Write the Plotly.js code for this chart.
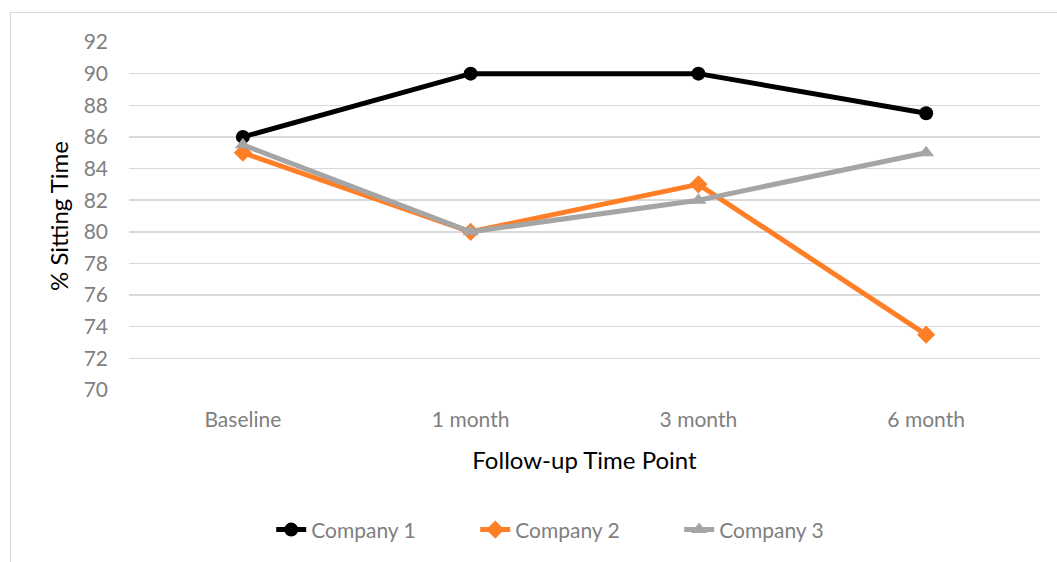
<!DOCTYPE html>
<html>
<head>
<meta charset="utf-8">
<script src="https://cdn.plot.ly/plotly-3.0.1.min.js"></script>
<style>
html,body{margin:0;padding:0;background:#fff;}
#wrap{position:relative;width:1057px;height:562px;overflow:hidden;}
#frame{position:absolute;left:10px;top:12px;width:1060px;height:570px;border:1.5px solid #d9d9d9;box-sizing:border-box;}
#chart{position:absolute;left:0;top:0;width:1057px;height:562px;}
</style>
</head>
<body>
<div id="wrap"><div id="frame"></div><div id="chart"></div></div>
<script>
const categories = ["Baseline", "1 month", "3 month", "6 month"];
const company1 = [86, 90, 90, 87.5];
const company2 = [85, 80, 83, 73.5];
const company3 = [85.5, 80, 82, 85];
const seriesNames = ["Company 1", "Company 2", "Company 3"];

const fontFam = "Lato, Open Sans, sans-serif";
const traces = [
  {x: categories, y: company1, name: seriesNames[0], type: "scatter", mode: "lines+markers",
   line: {color: "#000000", width: 5}, marker: {symbol: "circle", size: 14, color: "#000000"}},
  {x: categories, y: company2, name: seriesNames[1], type: "scatter", mode: "lines+markers",
   line: {color: "#ff7f27", width: 5}, marker: {symbol: "diamond", size: 14, color: "#ff7f27"}},
  {x: categories, y: company3, name: seriesNames[2], type: "scatter", mode: "lines+markers",
   line: {color: "#a5a5a5", width: 5}, marker: {symbol: "triangle-up", size: 14, color: "#a5a5a5"}}
];

const layout = {
  width: 1057, height: 562,
  paper_bgcolor: "rgba(0,0,0,0)", plot_bgcolor: "rgba(0,0,0,0)",
  margin: {l: 129, r: 17, t: 42, b: 172},
  font: {family: fontFam, color: "#595959", size: 21},
  xaxis: {
    type: "category", range: [-0.5, 3.5], automargin: false,
    showgrid: false, zeroline: false, showline: false, ticks: "",
    tickfont: {family: fontFam, size: 21, color: "#7f7f7f"},
    ticklabelstandoff: 15,
    title: {text: "Follow-up Time Point", font: {family: fontFam, size: 24, color: "#000000"}, standoff: 22}
  },
  yaxis: {
    range: [70, 92], dtick: 2, tick0: 70, automargin: false,
    showgrid: true, gridcolor: "#d9d9d9", gridwidth: 1.5,
    zeroline: false, showline: false, ticks: "",
    tickfont: {family: fontFam, size: 21, color: "#7f7f7f"},
    ticklabelstandoff: 20,
    title: {text: "% Sitting Time", font: {family: fontFam, size: 24, color: "#000000"}, standoff: 8}
  },
  showlegend: true,
  legend: {orientation: "h", yref: "container", y: 0.057, yanchor: "middle",
    x: 0.492, xanchor: "center",
    font: {family: fontFam, size: 21, color: "#7f7f7f"}, entrywidth: 159, entrywidthmode: "pixels",
    tracegroupgap: 0, bgcolor: "rgba(0,0,0,0)"}
};

Plotly.newPlot("chart", traces, layout, {displayModeBar: false, staticPlot: true});
</script>
</body>
</html>
